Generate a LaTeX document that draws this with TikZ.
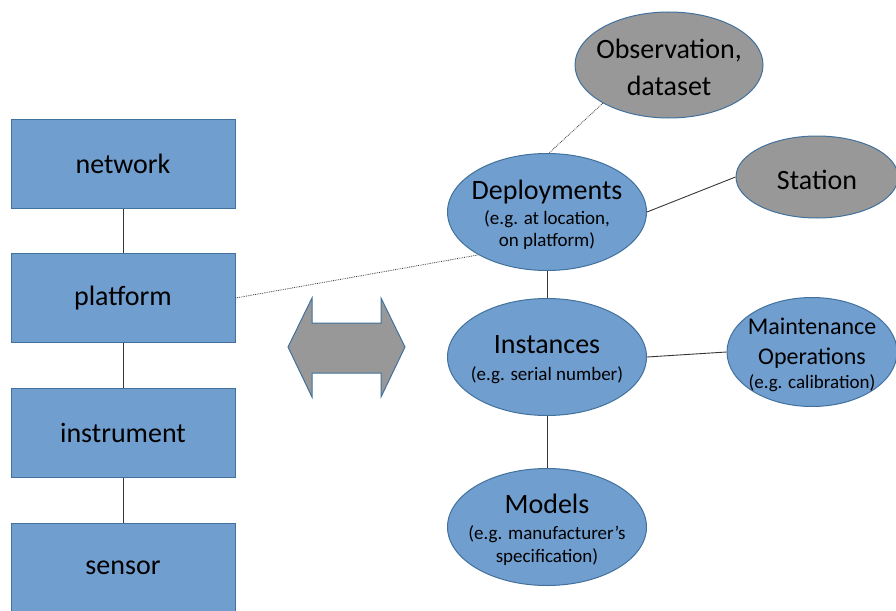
\documentclass[tikz,border=0pt]{standalone}
\usepackage{fontspec}
\setmainfont{Carlito}
\usetikzlibrary{shapes.geometric}
\definecolor{boxblue}{RGB}{112,158,207}
\definecolor{edgeblue}{RGB}{65,113,156}
\definecolor{blobgrey}{RGB}{152,152,152}
\definecolor{linegrey}{RGB}{55,55,55}
\newcommand\mainsz{\fontsize{28}{34}\selectfont}
\newcommand\obssz{\fontsize{28}{37}\selectfont}
\newcommand\midsz{\fontsize{24}{30}\selectfont}
\newcommand\subsz{\fontsize{19}{22}\selectfont}

\begin{document}
\begin{tikzpicture}[x=1pt,y=-1pt,object/.style={draw=edgeblue,line width=1pt,fill=boxblue,minimum width=224pt,minimum height=89pt,font=\mainsz},blob/.style={ellipse,draw=edgeblue,line width=1pt,fill=boxblue,inner sep=0pt,minimum width=199pt,minimum height=117pt},greyblob/.style={blob,fill=blobgrey},blobtext/.style={align=center,inner sep=0pt,yshift=-2.5pt,font=\subsz},link/.style={linegrey,line width=0.9pt},dotlink/.style={linegrey,line width=0.8pt,densely dotted}]
  \useasboundingbox (0,0) rectangle (896,610);

  \node[object] (network) at (123,164) {network};
  \node[object] (platform) at (123,298) {platform};
  \node[object] (instrument) at (123,433) {instrument};
  \node[object] (sensor) at (123,568) {sensor};

  \node[blob,label={[blobtext]center:{{\mainsz Deployments}\\[3pt](e.g. at location,\\on platform)}}] (deployments) at (547,212) {};
  \node[blob,label={[blobtext]center:{{\mainsz Instances}\\[5pt](e.g. serial number)}}] (instances) at (547,357) {};
  \node[blob,label={[blobtext]center:{{\mainsz Models}\\[4pt](e.g. manufacturer's\\[1pt]specification)}}] (models) at (547,527) {};
  \node[greyblob,minimum width=188pt,minimum height=106pt,label={[blobtext,font=\obssz]center:{Observation,\\dataset}}] (observation) at (669,65) {};
  \node[greyblob,minimum width=162pt,minimum height=82pt,label={[blobtext,font=\mainsz]center:{Station}}] (station) at (817,177) {};
  \node[blob,minimum width=170pt,minimum height=109pt,label={[blobtext]center:{{\midsz Maintenance}\\[8pt]{\midsz Operations}\\[2pt](e.g. calibration)}}] (maintenance) at (812,352) {};

  \draw[link] (network) -- (platform);
  \draw[link] (platform) -- (instrument);
  \draw[link] (instrument) -- (sensor);

  \draw[link] (deployments) -- (instances);
  \draw[link] (instances) -- (models);
  \draw[link] (deployments.east) -- (station.west);
  \draw[link] (instances.east) -- (maintenance.west);

  \draw[dotlink] (platform.east) -- (deployments.212);
  \draw[dotlink] (observation.210) -- (deployments.88);

  \draw[draw=edgeblue,line width=1pt,fill=blobgrey] (288,347) -- (312,298) -- (312,323) -- (381,323) -- (381,298) -- (405,347) -- (381,397) -- (381,373) -- (312,373) -- (312,397) -- cycle;
\end{tikzpicture}
\end{document}
